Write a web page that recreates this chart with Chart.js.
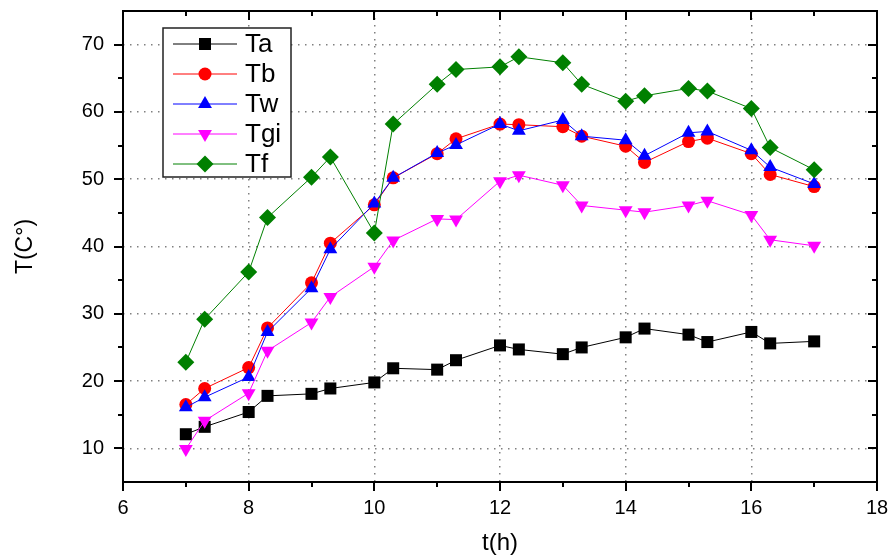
<!DOCTYPE html>
<html>
<head>
<meta charset="utf-8">
<script src="https://cdn.jsdelivr.net/npm/chart.js@4/dist/chart.umd.min.js"></script>
<style>
  html, body { margin: 0; padding: 0; background: #fff; }
  #wrap { width: 891px; height: 558px; }
</style>
</head>
<body>
<div id="wrap"><canvas id="chart"></canvas></div>
<script>
// hours of day
const hours = [7, 7.3, 8, 8.3, 9, 9.3, 10, 10.3, 11, 11.3, 12, 12.3, 13, 13.3, 14, 14.3, 15, 15.3, 16, 16.3, 17];
// temperatures, C
const Ta = [12.1, 13.2, 15.4, 17.8, 18.1, 18.9, 19.8, 21.9, 21.7, 23.1, 25.3, 24.7, 24.0, 25.0, 26.5, 27.8, 26.9, 25.8, 27.3, 25.6, 25.9];
const Tb = [16.5, 18.9, 22.0, 27.9, 34.6, 40.5, 46.2, 50.2, 53.8, 56.0, 58.2, 58.1, 57.8, 56.4, 54.9, 52.5, 55.6, 56.1, 53.8, 50.7, 48.9];
const Tw = [16.1, 17.6, 20.6, 27.3, 33.8, 39.6, 46.4, 50.2, 53.9, 55.1, 58.2, 57.2, 58.8, 56.4, 55.8, 53.5, 56.9, 57.1, 54.3, 51.8, 49.3];
const Tgi = [9.9, 14.1, 18.2, 24.5, 28.7, 32.5, 37.0, 40.9, 44.1, 44.0, 49.7, 50.6, 49.1, 46.1, 45.4, 45.1, 46.1, 46.8, 44.7, 41.0, 40.1];
const Tf = [22.8, 29.2, 36.2, 44.3, 50.3, 53.3, 42.0, 58.2, 64.1, 66.3, 66.7, 68.2, 67.3, 64.1, 61.6, 62.4, 63.5, 63.1, 60.5, 54.7, 51.4];

const seriesNames = ["Ta", "Tb", "Tw", "Tgi", "Tf"];
const xTicks = [6, 8, 10, 12, 14, 16, 18];
const yTicks = [10, 20, 30, 40, 50, 60, 70];

const FONT = "Arial, 'Liberation Sans', sans-serif";

const styles = [
  { color: "#000000", pointStyle: "rect", radius: 8.5, rotation: 0 },
  { color: "#ff0000", pointStyle: "circle", radius: 6.5, rotation: 0 },
  { color: "#0000ff", pointStyle: "triangle", radius: 8, rotation: 0 },
  { color: "#ff00ff", pointStyle: "triangle", radius: 8, rotation: 180 },
  { color: "#008000", pointStyle: "rectRot", radius: 8.5, rotation: 0 },
];

const values = [Ta, Tb, Tw, Tgi, Tf];

const datasets = values.map((arr, i) => ({
  label: seriesNames[i],
  data: arr.map((v, j) => ({ x: hours[j], y: v })),
  borderColor: styles[i].color,
  backgroundColor: styles[i].color,
  borderWidth: 1,
  pointStyle: styles[i].pointStyle,
  pointRadius: styles[i].radius,
  pointRotation: styles[i].rotation,
  pointBorderWidth: 0,
  pointHoverRadius: styles[i].radius,
  order: values.length - i, // later series drawn on top
}));

// frame + ticks like the original plot (outward left/bottom, inward top/right)
const framePlugin = {
  id: "frame",
  afterDraw(chart) {
    const { ctx, chartArea: a, scales } = chart;
    const xs = scales.x, ys = scales.y;
    ctx.save();
    ctx.strokeStyle = "#000";
    ctx.lineWidth = 2;
    ctx.strokeRect(a.left, a.top, a.right - a.left, a.bottom - a.top);
    ctx.lineWidth = 2;
    ctx.beginPath();
    const major = 9, minor = 5;
    for (let v = 6; v <= 18; v += 1) {
      const px = Math.round(xs.getPixelForValue(v));
      const len = v % 2 === 0 ? major : minor;
      ctx.moveTo(px, a.bottom);
      ctx.lineTo(px, a.bottom + len);
      ctx.moveTo(px, a.top);
      ctx.lineTo(px, a.top + len);
    }
    for (let v = 10; v <= 70; v += 5) {
      const py = Math.round(ys.getPixelForValue(v));
      const len = v % 10 === 0 ? major : minor;
      ctx.moveTo(a.left, py);
      ctx.lineTo(a.left - len, py);
      ctx.moveTo(a.right, py);
      ctx.lineTo(a.right - len, py);
    }
    ctx.stroke();
    ctx.restore();
  },
};

// boxed legend with line + marker samples
const legendPlugin = {
  id: "boxLegend",
  afterDraw(chart) {
    const ctx = chart.ctx;
    const box = { x: 163, y: 28, w: 128, h: 149 };
    ctx.save();
    ctx.fillStyle = "#fff";
    ctx.fillRect(box.x, box.y, box.w, box.h);
    ctx.strokeStyle = "#222";
    ctx.lineWidth = 1.5;
    ctx.strokeRect(box.x, box.y, box.w, box.h);
    ctx.font = "26px " + FONT;
    ctx.textBaseline = "middle";
    chart.data.datasets.forEach((ds, i) => {
      const cy = 44 + i * 30;
      ctx.strokeStyle = ds.borderColor;
      ctx.lineWidth = 1;
      ctx.beginPath();
      ctx.moveTo(173, cy);
      ctx.lineTo(237, cy);
      ctx.stroke();
      ctx.fillStyle = ds.backgroundColor;
      Chart.helpers.drawPoint(ctx, {
        pointStyle: ds.pointStyle,
        radius: ds.pointRadius,
        rotation: ds.pointRotation,
        borderWidth: 0,
      }, 205, cy);
      ctx.fillStyle = "#000";
      ctx.fillText(ds.label, 245, cy + 1);
    });
    ctx.restore();
  },
};

const config = {
  type: "line",
  data: { datasets: datasets },
  options: {
    responsive: false,
    animation: false,
    events: [],
    layout: { padding: { top: 11, right: 14, left: 0, bottom: 0 } },
    plugins: {
      legend: { display: false },
      tooltip: { enabled: false },
    },
    scales: {
      x: {
        type: "linear",
        min: 6,
        max: 18,
        afterBuildTicks: (scale) => {
          scale.ticks = xTicks.map((v) => ({ value: v }));
        },
        afterFit: (scale) => {
          scale.height = 76;
          scale.paddingLeft = 0;
          scale.paddingRight = 0;
        },
        ticks: {
          color: "#000",
          padding: 14,
          maxRotation: 0,
          font: { family: FONT, size: 20 },
        },
        grid: { color: "#808080", lineWidth: 1.5, drawTicks: false },
        border: { display: false, dash: [1.5, 5.5] },
        title: {
          display: true,
          text: "t(h)",
          color: "#000",
          font: { family: FONT, size: 24, lineHeight: 1.2 },
          padding: { top: 0, bottom: 0 },
        },
      },
      y: {
        type: "linear",
        min: 5,
        max: 75,
        afterBuildTicks: (scale) => {
          scale.ticks = yTicks.map((v) => ({ value: v }));
        },
        afterFit: (scale) => {
          scale.width = 123;
          scale.paddingTop = 0;
          scale.paddingBottom = 0;
        },
        ticks: {
          color: "#000",
          padding: 19,
          font: { family: FONT, size: 20 },
        },
        grid: { color: "#808080", lineWidth: 1.5, drawTicks: false },
        border: { display: false, dash: [1.5, 5.5] },
        title: {
          display: true,
          text: "T(C°)",
          color: "#000",
          font: { family: FONT, size: 23, lineHeight: 1.2 },
          padding: { top: 12, bottom: 0 },
        },
      },
    },
  },
  plugins: [framePlugin, legendPlugin],
};

const canvas = document.getElementById("chart");
canvas.width = 891;
canvas.height = 558;
new Chart(canvas, config);
</script>
</body>
</html>
